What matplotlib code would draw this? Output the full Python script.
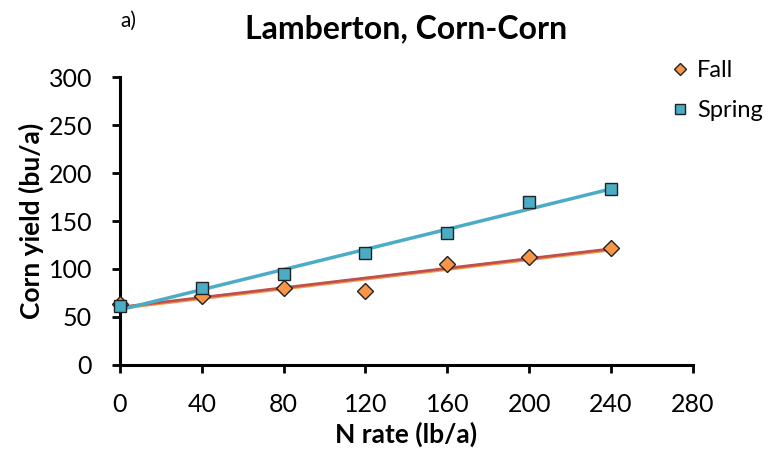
import numpy as np
import matplotlib.pyplot as plt

plt.rcParams['font.family'] = ['Lato', 'DejaVu Sans']

n_rate = [0, 40, 80, 120, 160, 200, 240]
fall = [63, 72, 80, 77, 105, 113, 122]
spring = [61, 80, 95, 117, 137, 170, 183]

fig = plt.figure(figsize=(7.69, 4.59), dpi=100)
ax = fig.add_axes([0.156, 0.205, 0.745, 0.627])

x = np.array(n_rate)
xx = np.array([0, 240])
pf = np.polyfit(x, fall, 1)
ps = np.polyfit(x, spring, 1)
ax.plot(xx, np.polyval(pf, xx) - 0.6, color='#F79646', lw=2.5, zorder=2)
ax.plot(xx, np.polyval(pf, xx) + 0.3, color='#C0504D', lw=2, zorder=2)
ax.plot(xx, np.polyval(ps, xx), color='#4BACC6', lw=2.5, zorder=2)

ax.plot(n_rate, fall, 'D', color='#F79646', mec='#222222', mew=1, ms=8, ls='none', label='Fall', zorder=3, clip_on=False)
ax.plot(n_rate, spring, 's', color='#4BACC6', mec='#222222', mew=1, ms=9, ls='none', label='Spring', zorder=3, clip_on=False)

ax.set_xlim(0, 280)
ax.set_ylim(0, 300)
ax.set_xticks(range(0, 281, 40))
ax.set_yticks(range(0, 301, 50))
for s in ['top', 'right']:
    ax.spines[s].set_visible(False)
for s in ['left', 'bottom']:
    ax.spines[s].set_linewidth(2.2)
ax.tick_params(width=2, length=6, labelsize=18, direction='out', pad=14)
ax.set_xlabel('N rate (lb/a)', fontsize=19, fontweight='bold', labelpad=4)
ax.set_ylabel('Corn yield (bu/a)', fontsize=19, fontweight='bold', labelpad=3)
ax.set_title('Lamberton, Corn-Corn', fontsize=23, fontweight='bold', pad=28)
fig.text(0.156, 0.955, 'a)', fontsize=15, ha='left', va='center')

fig.legend(loc='upper left', bbox_to_anchor=(0.845, 0.915), frameon=False, fontsize=17,
           handletextpad=0.3, markerscale=0.75, labelspacing=0.8, handlelength=0.8)

fig.savefig('out.png', dpi=100)
